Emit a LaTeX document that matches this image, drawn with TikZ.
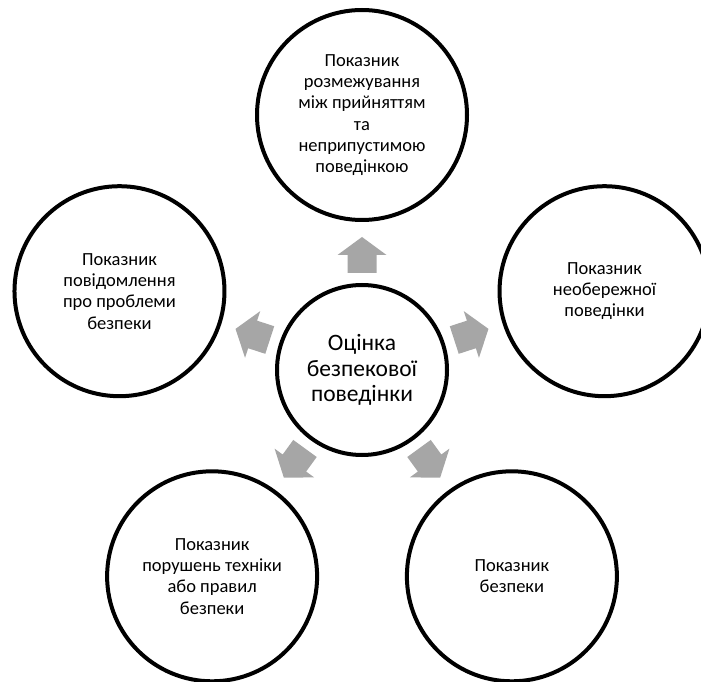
\documentclass[tikz,border=0pt]{standalone}
\usepackage{fontspec}
\setmainfont{Carlito}
\usetikzlibrary{calc}
\definecolor{arrowgrey}{HTML}{A6A6A6}
\tikzset{
  ring/.style={circle, draw=black, line width=4pt, fill=white, inner sep=0pt, align=center},
  satellite/.style={ring, minimum size=210pt, font=\fontsize{18.5}{21.3}\selectfont},
  hub/.style={ring, minimum size=170pt, font=\fontsize{23.5}{25.7}\selectfont},
  blockarrow/.pic={\fill[arrowgrey] (-18,-14.5) -- (0,-14.5) -- (0,-24.5) -- (18,0) -- (0,24.5) -- (0,14.5) -- (-18,14.5) -- cycle;}
}
\begin{document}
\begin{tikzpicture}[x=1pt,y=1pt]
\useasboundingbox[fill=white] (0,0) rectangle (701,681);
\coordinate (C) at (362,311);
\node[hub] (hub) at (C) {Оцінка\\безпекової\\поведінки};
\node[satellite] (top) at ($(C)+(90:255)$) {Показник\\розмежування\\між прийняттям\\та\\неприпустимою\\поведінкою};
\node[satellite] (right) at ($(C)+(18:255)$) {Показник\\необережної\\поведінки};
\node[satellite] (bright) at ($(C)+(-54:255)$) {Показник\\безпеки};
\node[satellite] (bleft) at ($(C)+(-126:255)$) {Показник\\порушень техніки\\або правил\\безпеки};
\node[satellite] (left) at ($(C)+(162:255)$) {Показник\\повідомлення\\про проблеми\\безпеки};
\foreach \a in {90,18,-54,-126,162}
  \pic[rotate=\a] at ($(C)+(\a:115)$) {blockarrow};
\end{tikzpicture}
\end{document}
